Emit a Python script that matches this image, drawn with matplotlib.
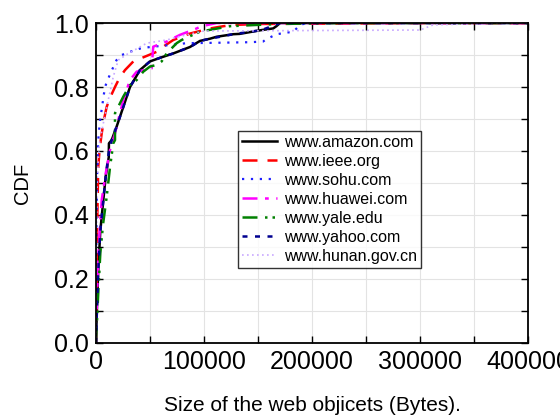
import matplotlib
matplotlib.use("Agg")
import matplotlib.pyplot as plt
from matplotlib.ticker import MultipleLocator, FuncFormatter

plt.rcParams['font.family'] = ['Liberation Sans', 'DejaVu Sans']

# Empirical CDFs of web object sizes (bytes) per site
amazon_x = [0, 1000, 2000, 4000, 6800, 9000, 11800, 12000, 14500, 19100, 25300, 31500, 40700,
            50000, 60000, 71600, 87000, 96300, 105600, 111700, 127100, 133000, 153400, 164000,
            167000, 170400, 400000]
amazon_y = [0, 0.12, 0.22, 0.35, 0.447, 0.52, 0.58, 0.624, 0.634, 0.676, 0.738, 0.80, 0.853,
            0.88, 0.892, 0.905, 0.925, 0.944, 0.951, 0.957, 0.965, 0.966, 0.978, 0.983,
            0.99, 1.0, 1.0]

ieee_x = [0, 500, 1000, 2100, 3500, 5300, 7500, 9900, 13500, 17600, 22000, 26900, 34600,
          45400, 56200, 64000, 71600, 87000, 105600, 117900, 127000, 151800, 200000, 290000, 400000]
ieee_y = [0, 0.15, 0.35, 0.551, 0.61, 0.655, 0.70, 0.738, 0.77, 0.80, 0.83, 0.853, 0.88,
          0.895, 0.91, 0.93, 0.947, 0.967, 0.983, 0.99, 0.994, 0.997, 0.998, 1.0, 1.0]

sohu_x = [0, 300, 800, 1200, 2100, 3500, 5200, 8300, 13000, 19000, 23800, 31500, 40700,
          50000, 65000, 84000, 108000, 142600, 154600, 158000, 167300, 182700, 189000, 195000, 400000]
sohu_y = [0, 0.3, 0.45, 0.55, 0.634, 0.69, 0.728, 0.80, 0.84, 0.884, 0.90, 0.91, 0.92,
          0.925, 0.93, 0.937, 0.938, 0.94, 0.942, 0.95, 0.965, 0.973, 0.994, 1.0, 1.0]

huawei_x = [0, 1000, 2500, 5300, 9000, 13000, 17600, 25300, 31500, 37700, 45400, 51500,
            53000, 65400, 77800, 93200, 97800, 111700, 400000]
huawei_y = [0, 0.15, 0.3, 0.447, 0.53, 0.603, 0.655, 0.76, 0.822, 0.848, 0.853, 0.858,
            0.926, 0.942, 0.963, 0.983, 0.99, 1.0, 1.0]

yale_x = [0, 2000, 4000, 6500, 9900, 13000, 16000, 17600, 17600, 25300, 31500, 37700, 43800,
          50000, 56200, 60800, 65400, 74700, 79300, 96300, 124000, 148800, 170400, 226000, 400000]
yale_y = [0, 0.15, 0.28, 0.37, 0.457, 0.55, 0.624, 0.634, 0.718, 0.77, 0.806, 0.822, 0.848,
          0.864, 0.869, 0.88, 0.905, 0.937, 0.947, 0.973, 0.99, 0.994, 0.997, 1.0, 1.0]

yahoo_x = [0, 1000, 2000, 4000, 6800, 9000, 12000, 14500, 19100, 25300, 31500, 40700,
           50000, 60000, 71600, 87000, 96300, 105600, 127100, 153400, 170400, 400000]
yahoo_y = [0, 0.12, 0.22, 0.35, 0.447, 0.52, 0.60, 0.634, 0.676, 0.738, 0.80, 0.853,
           0.88, 0.892, 0.905, 0.925, 0.944, 0.951, 0.965, 0.978, 1.0, 1.0]

hunan_x = [0, 300, 1000, 3000, 6800, 11400, 16000, 20600, 30000, 47000, 65400, 80000,
           100000, 300000, 312000, 375000, 400000]
hunan_y = [0, 0.3, 0.5, 0.62, 0.687, 0.76, 0.832, 0.884, 0.905, 0.937, 0.947, 0.96,
           0.975, 0.978, 0.994, 1.0, 1.0]

labels = ['www.amazon.com', 'www.ieee.org', 'www.sohu.com', 'www.huawei.com',
          'www.yale.edu', 'www.yahoo.com', 'www.hunan.gov.cn']

fig = plt.figure(figsize=(5.6, 4.16), dpi=100)
ax = fig.add_axes([0.1714, 0.1755, 0.7716, 0.7692])

ax.plot(amazon_x, amazon_y, color='black', lw=1.8, ls='-', label=labels[0])
ax.plot(ieee_x, ieee_y, color='#ff0000', lw=1.8, ls=(0, (6, 4)), label=labels[1])
ax.plot(sohu_x, sohu_y, color='#2020ff', lw=1.6, ls=(0, (1, 3)), label=labels[2])
ax.plot(huawei_x, huawei_y, color='#ff00ff', lw=1.8, ls=(0, (6, 3, 1.5, 3)), label=labels[3])
ax.plot(yale_x, yale_y, color='#008000', lw=1.8, ls=(0, (6, 3, 1, 2, 1, 3)), label=labels[4])
ax.plot(yahoo_x, yahoo_y, color='#000090', lw=1.8, ls=(0, (2, 3)), label=labels[5])
ax.plot(hunan_x, hunan_y, color='#c8a8ff', lw=1.2, ls=(0, (1, 2)), label=labels[6])

ax.set_xlim(0, 400000)
ax.set_ylim(0, 1.0)
ax.xaxis.set_major_locator(MultipleLocator(100000))
ax.xaxis.set_minor_locator(MultipleLocator(50000))
ax.yaxis.set_major_locator(MultipleLocator(0.2))
ax.yaxis.set_minor_locator(MultipleLocator(0.1))
ax.xaxis.set_major_formatter(FuncFormatter(lambda v, p: f"{int(v)}"))
ax.yaxis.set_major_formatter(FuncFormatter(lambda v, p: f"{v:.1f}"))

ax.grid(True, which='both', color='#e3e3e3', lw=0.8)
ax.set_axisbelow(True)
ax.tick_params(which='both', direction='in', top=True, right=True, length=5, width=1,
               labelsize=18)
ax.tick_params(axis='x', pad=5)
ax.tick_params(axis='y', pad=5)
for s in ax.spines.values():
    s.set_linewidth(1.3)

ax.set_xlabel('Size of the web objicets (Bytes).', fontsize=15, labelpad=16)
ax.set_ylabel('CDF', fontsize=14.5, labelpad=16)

leg = ax.legend(loc='upper left', bbox_to_anchor=(0.329, 0.6625), borderaxespad=0,
                fontsize=11.5, frameon=True, fancybox=False, handlelength=2.2,
                handletextpad=0.4, labelspacing=0.25, borderpad=0.25)
leg.get_frame().set_edgecolor('black')
leg.get_frame().set_linewidth(1.0)

fig.savefig('out.png', dpi=100)
